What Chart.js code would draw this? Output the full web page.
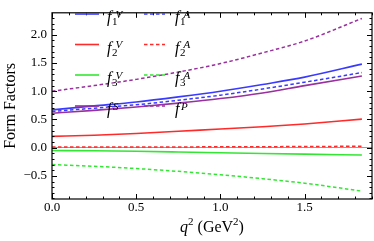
<!DOCTYPE html>
<html><head><meta charset="utf-8">
<script src="https://cdn.jsdelivr.net/npm/chart.js@4/dist/chart.umd.min.js"></script>
<style>html,body{margin:0;padding:0;background:#fff;overflow:hidden}</style>
</head><body>
<canvas id="c" width="374" height="241" style="display:block;width:374px;height:241px"></canvas>
<script>
// ---- data ----
const qValues = [0, 0.25, 0.5, 0.75, 1.0, 1.25, 1.5, 1.84];
const f1V = [0.67, 0.74, 0.81, 0.90, 1.00, 1.12, 1.25, 1.48];
const f2V = [0.20, 0.22, 0.25, 0.29, 0.33, 0.37, 0.42, 0.505];
const f3V = [-0.05, -0.056, -0.065, -0.077, -0.09, -0.103, -0.115, -0.13];
const fS  = [0.61, 0.66, 0.72, 0.79, 0.87, 0.97, 1.10, 1.27];
const f1A = [0.64, 0.70, 0.76, 0.84, 0.93, 1.04, 1.16, 1.33];
const f2A = [0.010, 0.011, 0.012, 0.013, 0.015, 0.017, 0.020, 0.025];
const f3A = [-0.30, -0.33, -0.37, -0.42, -0.48, -0.55, -0.63, -0.77];
const fP  = [1.00, 1.10, 1.21, 1.34, 1.49, 1.68, 1.89, 2.29];
const xTicks = [0, 0.5, 1.0, 1.5];
const yTicks = [-0.5, 0, 0.5, 1.0, 1.5, 2.0];
const seriesNames = ['f1V','f2V','f3V','fS','f1A','f2A','f3A','fP'];
const legendSub = ['1','2','3','','1','2','3',''];
const legendSup = ['V','V','V','S','A','A','A','P'];
const xTitle = ['q','2',' (GeV','2',')'];
const yTitle = 'Form Factors';

const seriesValues = [f1V, f2V, f3V, fS, f1A, f2A, f3A, fP];
const colors = ['#3a3aff','#ff2a2a','#33e633','#9a2f9e','#3a3aff','#ff2a2a','#33e633','#9a2f9e'];
const SERIF = '"Liberation Serif", "Times New Roman", serif';

const datasets = seriesValues.map((vals, i) => ({
  label: seriesNames[i],
  data: qValues.map((q, j) => ({x: q, y: vals[j]})),
  borderColor: colors[i],
  borderWidth: i < 4 ? 1.6 : 1.5,
  borderDash: i < 4 ? [] : [3.5, 2.5],
  pointRadius: 0,
  fill: false,
  cubicInterpolationMode: 'monotone'
}));

const framePlugin = {
  id: 'framePlugin',
  afterDatasetsDraw(chart) {
    const ctx = chart.ctx, a = chart.chartArea;
    const xs = chart.scales.x, ys = chart.scales.y;
    ctx.save();
    // frame
    ctx.strokeStyle = '#000'; ctx.lineWidth = 1.2; ctx.setLineDash([]);
    ctx.strokeRect(a.left, a.top, a.right - a.left, a.bottom - a.top);
    // ticks
    ctx.lineWidth = 1;
    const isMajor = (v, list) => list.some(t => Math.abs(t - v) < 1e-6);
    for (let k = Math.ceil(xs.min * 10); k <= Math.floor(xs.max * 10); k++) {
      const v = k / 10, px = Math.round(xs.getPixelForValue(v)) + 0.5;
      const len = isMajor(v, xTicks) ? 5 : 2.5;
      ctx.beginPath();
      ctx.moveTo(px, a.bottom); ctx.lineTo(px, a.bottom - len);
      ctx.moveTo(px, a.top); ctx.lineTo(px, a.top + len);
      ctx.stroke();
    }
    for (let k = Math.ceil(ys.min * 10); k <= Math.floor(ys.max * 10); k++) {
      const v = k / 10, py = Math.round(ys.getPixelForValue(v)) + 0.5;
      const len = isMajor(v, yTicks) ? 5 : 2.5;
      ctx.beginPath();
      ctx.moveTo(a.left, py); ctx.lineTo(a.left + len, py);
      ctx.moveTo(a.right, py); ctx.lineTo(a.right - len, py);
      ctx.stroke();
    }
    // legend
    const rows = [14, 44.5, 75, 106];
    const cols = [{l0: 75, l1: 99, t: 107}, {l0: 144, l1: 165, t: 175}];
    chart.data.datasets.forEach((ds, i) => {
      const c = cols[i < 4 ? 0 : 1], y = rows[i % 4];
      ctx.strokeStyle = ds.borderColor; ctx.lineWidth = ds.borderWidth;
      ctx.setLineDash(ds.borderDash);
      ctx.beginPath(); ctx.moveTo(c.l0, y); ctx.lineTo(c.l1, y); ctx.stroke();
      ctx.setLineDash([]);
      ctx.fillStyle = '#000'; ctx.textBaseline = 'alphabetic'; ctx.textAlign = 'left';
      ctx.font = 'italic 16px ' + SERIF;
      ctx.fillText('f', c.t, y + 8);
      const fw = ctx.measureText('f').width;
      if (legendSub[i]) {
        ctx.font = '11px ' + SERIF;
        ctx.fillText(legendSub[i], c.t + fw + 0.5, y + 11);
      }
      ctx.font = 'italic 11px ' + SERIF;
      ctx.fillText(legendSup[i], c.t + fw + (legendSub[i] ? 4 : 1.5), y + 3.5);
    });
    // x title
    const parts = [
      {t: xTitle[0], f: 'italic 16px ' + SERIF, dy: 0},
      {t: xTitle[1], f: '11px ' + SERIF, dy: -7},
      {t: xTitle[2], f: '16px ' + SERIF, dy: 0},
      {t: xTitle[3], f: '11px ' + SERIF, dy: -7},
      {t: xTitle[4], f: '16px ' + SERIF, dy: 0}
    ];
    let w = 0;
    parts.forEach(p => { ctx.font = p.f; p.w = ctx.measureText(p.t).width; w += p.w; });
    let x = (a.left + a.right) / 2 - w / 2;
    const base = 232;
    ctx.fillStyle = '#000';
    parts.forEach(p => { ctx.font = p.f; ctx.fillText(p.t, x, base + p.dy); x += p.w; });
    ctx.restore();
  }
};

new Chart(document.getElementById('c'), {
  type: 'line',
  data: {datasets},
  options: {
    responsive: false, animation: false, devicePixelRatio: 1,
    layout: {padding: {top: 1, right: 2, left: 0, bottom: 0}},
    plugins: {legend: {display: false}, tooltip: {enabled: false}},
    scales: {
      x: {
        type: 'linear', min: 0, max: 1.9,
        afterBuildTicks: s => { s.ticks = xTicks.map(v => ({value: v})); },
        afterFit: s => { s.height = 42; },
        grid: {display: false, drawTicks: false},
        border: {display: false},
        ticks: {padding: 1, color: '#000', font: {family: SERIF, size: 13}, maxRotation: 0, autoSkip: false,
                callback: v => v.toFixed(1)}
      },
      y: {
        type: 'linear', min: -0.91, max: 2.39,
        afterBuildTicks: s => { s.ticks = yTicks.map(v => ({value: v})); },
        afterFit: s => { s.width = 52; },
        grid: {drawTicks: false, lineWidth: 1,
               color: c => (c.tick && Math.abs(c.tick.value) < 1e-9) ? '#9a9a9a' : 'rgba(0,0,0,0)'},
        border: {display: false},
        ticks: {padding: 5, color: '#000', font: {family: SERIF, size: 13},
                callback: v => (v < 0 ? '\u2212' + Math.abs(v).toFixed(1) : v.toFixed(1))},
        title: {display: true, text: yTitle, color: '#000', font: {family: SERIF, size: 16},
                padding: {top: 1, bottom: 0}}
      }
    }
  },
  plugins: [framePlugin]
});
</script>
</body></html>
